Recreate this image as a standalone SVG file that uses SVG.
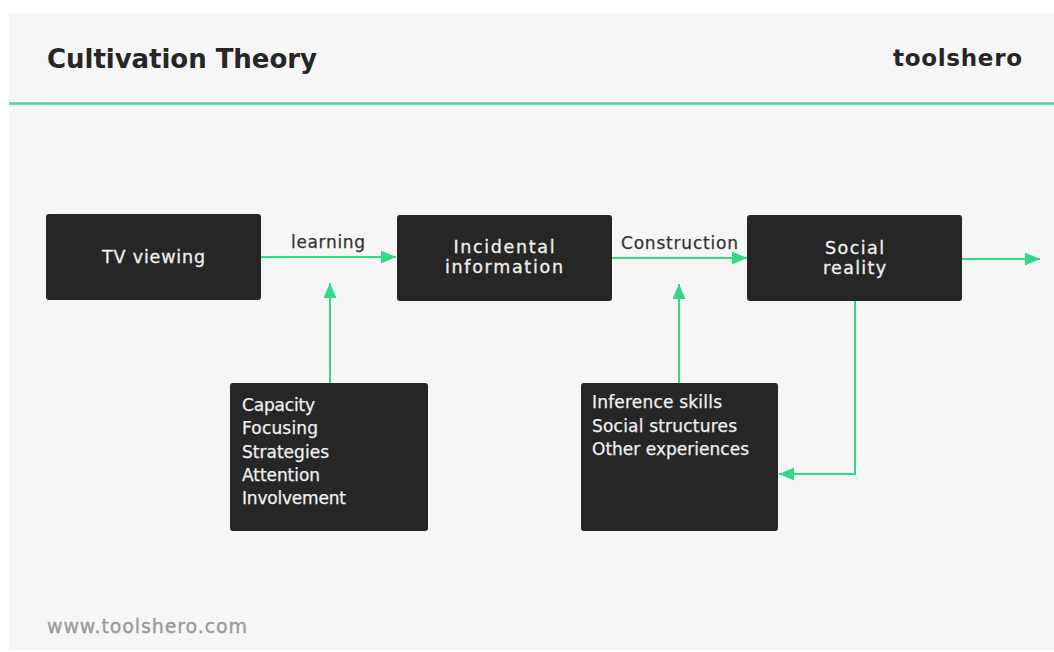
<svg xmlns="http://www.w3.org/2000/svg" width="1054" height="652" viewBox="0 0 1054 652">
  <style>
    .panel { fill: #f6f6f6; }
    .rule { stroke: #52d69c; stroke-width: 2.5; }
    .title { font-family: "DejaVu Sans", "Liberation Sans", sans-serif; font-weight: bold; fill: #262626; }
    .box { fill: #262626; }
    .boxtext { font-family: "DejaVu Sans", "Liberation Sans", sans-serif; font-size: 17.5px; fill: #f0f0f0; stroke: #f0f0f0; stroke-width: 0.3; text-anchor: middle; }
    .listtext { font-family: "DejaVu Sans", "Liberation Sans", sans-serif; font-size: 17px; fill: #f0f0f0; stroke: #f0f0f0; stroke-width: 0.25; }
    .label { font-family: "DejaVu Sans", "Liberation Sans", sans-serif; font-size: 17px; fill: #333333; stroke: #333333; stroke-width: 0.25; }
    .footer { font-family: "DejaVu Sans", "Liberation Sans", sans-serif; font-size: 19px; fill: #999999; stroke: #999999; stroke-width: 0.3; }
    .conn { fill: none; stroke: #31d989; stroke-width: 2; marker-end: url(#head); }
  </style>
  <defs>
    <marker id="head" markerUnits="userSpaceOnUse" markerWidth="16" markerHeight="14" refX="15" refY="6.5" orient="auto">
      <path d="M0,0 L15,6.5 L0,13 Z" fill="#31d989"/>
    </marker>
  </defs>

  <!-- page -->
  <rect x="0" y="0" width="1054" height="652" fill="#ffffff"/>
  <rect class="panel" x="9" y="13" width="1045" height="637"/>

  <!-- header -->
  <g id="header">
    <text class="title" x="47" y="67.5" font-size="26" textLength="270">Cultivation Theory</text>
    <text class="title" x="893" y="66" font-size="23" textLength="129">toolshero</text>
    <line class="rule" x1="9" y1="103.5" x2="1054" y2="103.5"/>
  </g>

  <!-- connectors -->
  <g id="connectors">
    <path class="conn" d="M261,257 H396"/>
    <path class="conn" d="M330,383 V283"/>
    <path class="conn" d="M612,258 H747"/>
    <path class="conn" d="M679,383 V284"/>
    <path class="conn" d="M962,259 H1040"/>
    <path class="conn" d="M855,301 V474 H779"/>
    <text class="label" x="291" y="248" textLength="74">learning</text>
    <text class="label" x="621" y="248.5" textLength="117">Construction</text>
  </g>

  <!-- nodes -->
  <g id="tv-viewing">
    <rect class="box" x="46" y="214" width="215" height="86" rx="3"/>
    <text class="boxtext" x="153.5" y="263" font-size="18.5" textLength="103">TV viewing</text>
  </g>

  <g id="incidental-information">
    <rect class="box" x="397" y="215" width="215" height="86" rx="3"/>
    <text class="boxtext" x="504" y="252.5" textLength="101">Incidental</text>
    <text class="boxtext" x="504" y="273" textLength="118">information</text>
  </g>

  <g id="social-reality">
    <rect class="box" x="747" y="215" width="215" height="86" rx="3"/>
    <text class="boxtext" x="854.5" y="253.5" textLength="59">Social</text>
    <text class="boxtext" x="854.5" y="274" textLength="63">reality</text>
  </g>

  <g id="learning-factors">
    <rect class="box" x="230" y="383" width="198" height="148" rx="3"/>
    <text class="listtext" x="242" y="411" textLength="73">Capacity</text>
    <text class="listtext" x="242" y="434" textLength="76">Focusing</text>
    <text class="listtext" x="242" y="458" textLength="87">Strategies</text>
    <text class="listtext" x="242" y="481" textLength="78">Attention</text>
    <text class="listtext" x="242" y="504" textLength="104">Involvement</text>
  </g>

  <g id="construction-factors">
    <rect class="box" x="581" y="383" width="197" height="148" rx="3"/>
    <text class="listtext" x="592" y="408" textLength="130">Inference skills</text>
    <text class="listtext" x="592" y="432" textLength="145">Social structures</text>
    <text class="listtext" x="592" y="455" textLength="157">Other experiences</text>
  </g>

  <!-- footer -->
  <g id="footer">
    <text class="footer" x="47" y="633" textLength="200">www.toolshero.com</text>
  </g>
</svg>
